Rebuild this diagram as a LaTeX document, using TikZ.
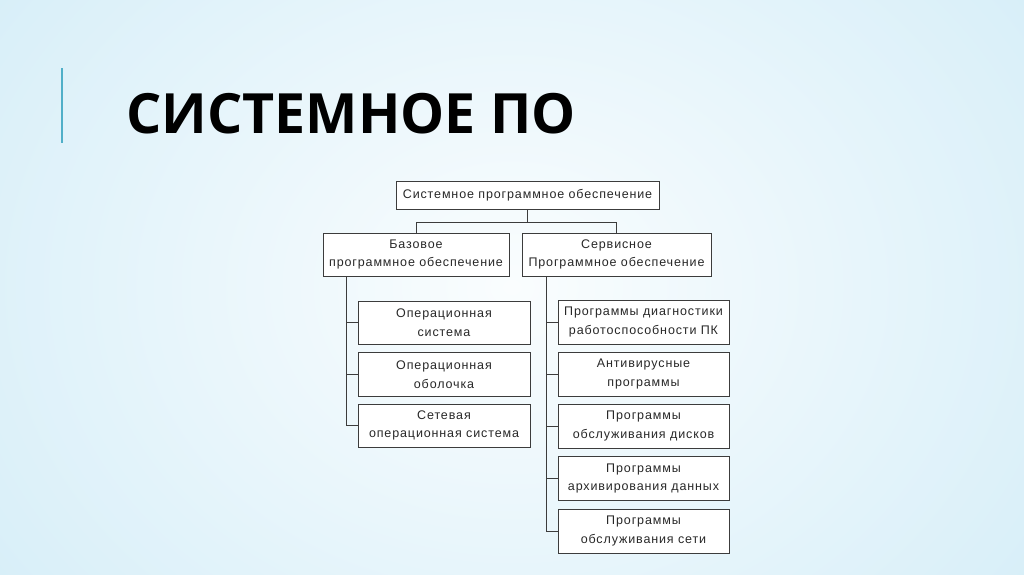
\documentclass[tikz,border=0pt]{standalone}
\usepackage{fontspec}
\setmainfont{Liberation Sans}[LetterSpace=7]
\newfontfamily\titlefont{Open Sans}
\usetikzlibrary{calc}
\definecolor{bgouter}{RGB}{214,238,248}
\definecolor{bginner}{RGB}{250,253,254}
\definecolor{accent}{RGB}{80,175,200}
\definecolor{linec}{RGB}{60,60,60}
\definecolor{txt}{RGB}{40,40,40}
\tikzset{
  box/.style={draw=linec, line width=0.8pt, fill=white, align=center, text=txt,
    font=\fontsize{12.5}{18.5}\selectfont, inner sep=0pt},
  conn/.style={draw=linec, line width=0.8pt},
}
\begin{document}
\begin{tikzpicture}[x=1pt,y=-1pt]
\useasboundingbox (0,0) rectangle (1024,574);
\shade[inner color=bginner, outer color=bgouter] (-150,-250) rectangle (1174,824);
\draw[accent, line width=2pt] (62,68) -- (62,143);
\node[anchor=base west, inner sep=0pt, font=\titlefont\bfseries\fontsize{55.5}{60}\selectfont, text=black] (title) at (126,133) {СИСТЕМНОЕ ПО};

\node[box, minimum width=263, minimum height=28] (top) at (527.5,195) {Системное программное обеспечение};
\node[box, minimum width=186, minimum height=43] (base) at (416,254.5) {Базовое\\программное обеспечение};
\node[box, minimum width=189, minimum height=43] (serv) at (616.5,254.5) {Сервисное\\Программное обеспечение};

\node[box, minimum width=172, minimum height=43] (l1) at (444,322.5) {Операционная\\система};
\node[box, minimum width=172, minimum height=44] (l2) at (444,374.5) {Операционная\\оболочка};
\node[box, minimum width=172, minimum height=43] (l3) at (444,425.5) {Сетевая\\операционная система};

\node[box, minimum width=171, minimum height=44] (r1) at (643.5,322) {Программы диагностики\\работоспособности ПК};
\node[box, minimum width=171, minimum height=44] (r2) at (643.5,374) {Антивирусные\\программы};
\node[box, minimum width=171, minimum height=44] (r3) at (643.5,426) {Программы\\обслуживания дисков};
\node[box, minimum width=171, minimum height=44] (r4) at (643.5,478.5) {Программы\\архивирования данных};
\node[box, minimum width=171, minimum height=44] (r5) at (643.5,531) {Программы\\обслуживания сети};

\coordinate (j) at ($(top.south)+(0,13)$);
\draw[conn] (top.south) -- (j);
\draw[conn] (base.north) |- (j) -| (serv.north);

\coordinate (ls) at ($(base.south west)+(24,0)$);
\draw[conn] (ls) |- (l3.west);
\draw[conn] (l1.west) -- (l1.west -| ls);
\draw[conn] (l2.west) -- (l2.west -| ls);

\coordinate (rs) at ($(serv.south west)+(25,0)$);
\draw[conn] (rs) |- (r5.west);
\draw[conn] (r1.west) -- (r1.west -| rs);
\draw[conn] (r2.west) -- (r2.west -| rs);
\draw[conn] (r3.west) -- (r3.west -| rs);
\draw[conn] (r4.west) -- (r4.west -| rs);
\end{tikzpicture}
\end{document}
